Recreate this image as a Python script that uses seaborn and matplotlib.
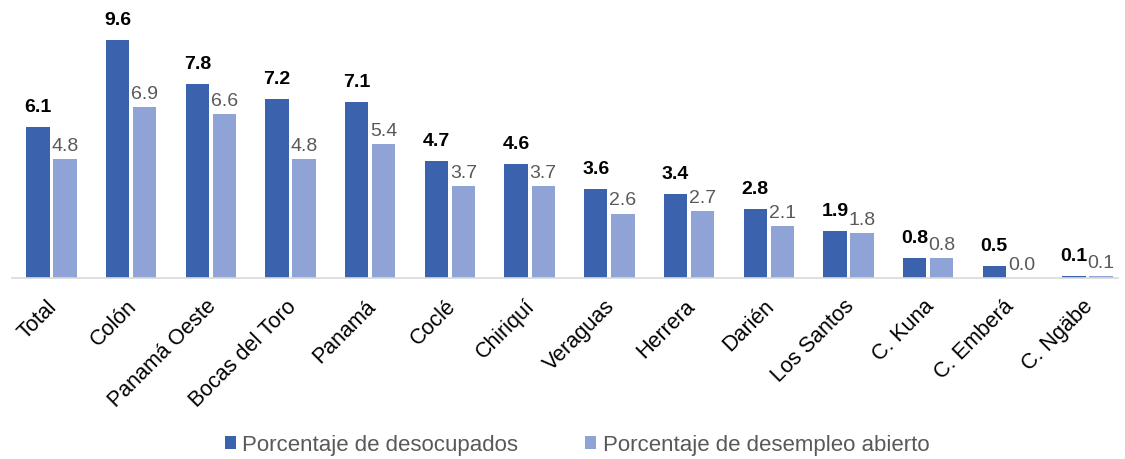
import numpy as np
import pandas as pd
import matplotlib.pyplot as plt
import matplotlib.transforms as mtransforms
import seaborn as sns

# Data
regiones = ['Total', 'Colón', 'Panamá Oeste', 'Bocas del Toro', 'Panamá', 'Coclé',
            'Chiriquí', 'Veraguas', 'Herrera', 'Darién', 'Los Santos', 'C. Kuna',
            'C. Emberá', 'C. Ngäbe']
desocupados = [6.1, 9.6, 7.8, 7.2, 7.1, 4.7, 4.6, 3.6, 3.4, 2.8, 1.9, 0.8, 0.5, 0.1]
desempleo_abierto = [4.8, 6.9, 6.6, 4.8, 5.4, 3.7, 3.7, 2.6, 2.7, 2.1, 1.8, 0.8, 0.0, 0.1]
series = ['Porcentaje de desocupados', 'Porcentaje de desempleo abierto']

df = pd.DataFrame({
    'region': regiones * 2,
    'valor': desocupados + desempleo_abierto,
    'serie': [series[0]] * len(regiones) + [series[1]] * len(regiones),
})

sns.set_style('white')
plt.rcParams['font.family'] = ['Liberation Sans', 'DejaVu Sans']

colors = ['#3B63AD', '#8FA3D6']
fig = plt.figure(figsize=(11.25, 4.59), dpi=100)
ax = fig.add_axes([0.0, 0.394, 1.0, 0.606])

sns.barplot(data=df, x='region', y='valor', hue='serie', palette=colors, saturation=1,
            width=0.68, gap=0.14, linewidth=0, ax=ax)

# value labels: bold above dark bars, grey and shifted right for light bars
ax.bar_label(ax.containers[0], labels=[f'{v:.1f}' for v in desocupados],
             padding=8, fontsize=14, fontweight='bold', color='black')
ax.bar_label(ax.containers[1], labels=[f'{v:.1f}' for v in desempleo_abierto],
             padding=3, fontsize=14, color='#595959')
shift = mtransforms.ScaledTranslation(11 / 100, 0, fig.dpi_scale_trans)
for t in ax.texts[len(regiones):]:
    t.set_transform(t.get_transform() + shift)

ax.set_ylim(0, 11.2)
ax.set_xlim(-0.646, 13.47)
ax.set_xlabel('')
ax.set_ylabel('')
ax.set_yticks([])
for s in ['top', 'right', 'left']:
    ax.spines[s].set_visible(False)
ax.spines['bottom'].set_color('#D9D9D9')
ax.spines['bottom'].set_linewidth(1.2)
ax.spines['bottom'].set_bounds(-0.5, 13.38)

ax.tick_params(axis='x', length=0, pad=13)
tick_shift = mtransforms.ScaledTranslation(-5 / 100, 0, fig.dpi_scale_trans)
for lbl in ax.get_xticklabels():
    lbl.set_rotation(45)
    lbl.set_ha('right')
    lbl.set_rotation_mode('anchor')
    lbl.set_fontsize(15.5)
    lbl.set_color('black')
    lbl.set_transform(lbl.get_transform() + tick_shift)

leg = ax.legend(loc='center', bbox_to_anchor=(0.513, -0.6), ncol=2, frameon=False,
                fontsize=16, handlelength=0.5, handleheight=0.5, handletextpad=0.3,
                columnspacing=3.0)
for t in leg.get_texts():
    t.set_color('#595959')

fig.savefig('out.png', dpi=100)
